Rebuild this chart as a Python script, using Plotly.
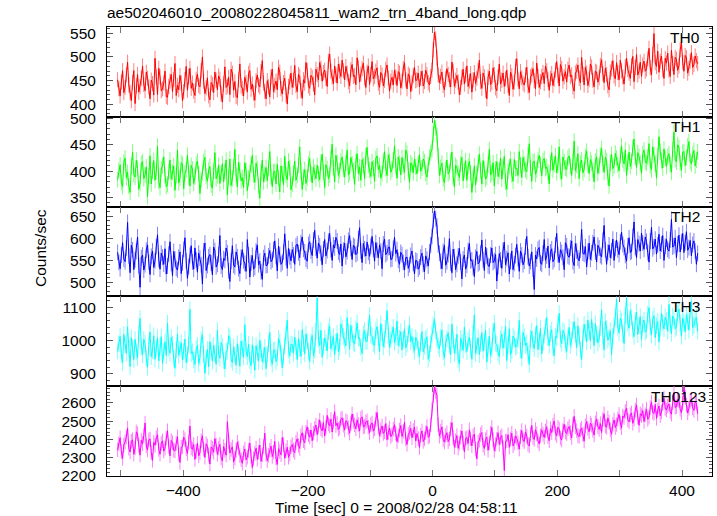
import plotly.graph_objects as go

# ---- data ----
t_start = -505   # first bin time [s]
t_step = 2       # bin width [s]

th0 = [452,433, 418,447, 471,425, 436,462, 489,441, 425,408, 447,471, 402,439, 463,426, 438,455,
       481,442, 429,468, 455,437, 412,451, 444,420, 497,458, 421,476, 458,429, 433,445, 470,417,
       415,438, 449,463, 427,452, 486,419, 440,431, 461,445, 408,427, 452,480, 430,459, 476,434,
       445,428, 419,453, 464,440, 437,471, 500,449, 423,435, 456,418, 410,446, 442,425, 468,451,
       431,460, 453,422, 405,443, 479,436, 439,457, 421,474, 466,430, 448,417, 414,452, 485,439,
       434,418, 457,446, 426,465, 471,432, 443,424, 409,450, 462,441, 437,469, 492,445, 428,412,
       450,437, 416,458, 474,427, 440,449, 431,478, 468,433, 422,446, 455,420, 401,438, 447,466,
       436,451, 482,440, 427,463, 459,429, 413,452, 445,488, 472,439, 434,461, 457,443, 420,474,
       463,452, 488,476, 449,467, 472,455, 438,491, 506,470, 458,444, 481,462, 445,485, 470,459,
       493,471, 452,480, 466,448, 439,473, 484,459, 461,442, 498,478, 447,464, 475,487, 456,436,
       468,481, 442,463, 490,454, 459,470, 477,445, 436,467, 462,439, 451,474, 483,456, 428,449,
       457,441, 472,458, 440,469, 466,435, 449,476, 488,452, 433,464, 460,427, 445,461, 478,450,
       452,466, 437,455, 470,439, 448,472, 463,446, 441,459,
       472,515, 552,538, 498,462,
       446,459, 468,440, 431,454, 475,463, 452,437, 489,470, 438,451, 461,447, 420,436, 457,474, 443,462,
       481,438, 449,465, 426,452, 467,444, 455,471, 493,448, 434,466, 458,430, 412,457, 470,442,
       446,477, 463,435, 429,458, 485,443, 451,466, 438,454, 472,440, 419,468, 460,432, 447,480,
       496,453, 433,469, 456,445, 441,462, 478,439, 425,458, 462,475, 450,433, 487,459, 436,448,
       459,467, 444,481, 471,452, 430,455, 465,440, 453,472, 490,461, 439,484, 476,449, 458,469,
       447,474, 483,458, 462,437, 428,466, 470,483, 455,446, 499,463, 441,478, 466,440, 452,485,
       479,451, 437,470, 468,447, 456,482, 494,465, 446,476, 463,439, 431,468, 475,492, 460,454,
       488,467, 452,493, 471,458, 443,480, 497,474, 466,455, 482,501, 448,478, 505,462, 470,489,
       459,483, 491,470, 475,496, 518,477, 462,506, 549,488, 480,512, 468,491, 502,474, 455,497,
       487,508, 472,459, 514,486, 463,499, 495,472, 481,515, 530,489, 470,503, 498,466, 476,491,
       509,478, 484,502, 492,486]

th1 = [384,402, 412,379, 371,417, 425,388, 398,372, 360,409, 436,394, 389,421, 405,366, 377,414,
       418,386, 393,408, 352,391, 429,376, 401,420, 383,399, 447,381, 369,404, 410,427, 392,371,
       375,399, 421,385, 398,410, 364,392, 440,378, 387,416, 413,367, 396,403, 430,389, 372,411,
       404,377, 389,413, 419,395, 358,384, 397,418, 426,390, 381,402, 409,374, 368,400, 435,386,
       392,411, 377,396, 414,380, 399,421, 355,389, 423,373, 386,408, 441,393, 370,417, 402,382,
       388,369, 416,401, 363,387, 397,412, 430,393, 379,415, 405,372, 349,398, 421,380, 394,407,
       382,405, 437,390, 371,398, 400,376, 413,387, 361,410, 395,374, 428,392, 384,419, 407,365,
       375,396, 419,383, 392,411, 446,400, 366,389, 403,377, 387,414, 424,395, 378,408, 398,386,
       411,395, 384,417, 432,399, 369,412, 405,386, 393,424, 451,407, 380,430, 416,392, 401,419,
       427,404, 389,415, 440,393, 397,426, 414,401, 375,418, 433,396, 408,383, 422,411, 386,429,
       445,412, 402,390, 418,406, 381,424, 429,403, 411,387, 396,419, 437,405, 392,431, 420,398,
       404,421, 448,409, 387,427, 415,393, 426,410, 398,440, 434,402, 379,416, 412,397, 423,408,
       395,414, 431,400, 406,423, 418,396, 389,412, 427,435,
       441,470, 496,482, 468,430,
       392,407, 415,386, 378,403, 421,395, 399,418, 436,389, 370,411, 407,396, 388,414, 426,382, 401,420,
       383,409, 419,397, 360,388, 410,374, 394,415, 432,401, 376,420, 404,385, 389,412, 441,393,
       397,416, 372,404, 418,390, 401,425, 385,408, 428,379, 366,400, 409,423, 393,381, 422,405,
       405,392, 437,411, 388,426, 414,403, 399,431, 452,406, 381,417, 419,394, 402,421, 430,413,
       391,420, 424,405, 408,398, 376,415, 435,402, 413,429, 397,411, 446,399, 385,427, 418,406,
       403,425, 429,410, 392,418, 457,401, 411,433, 386,415, 421,397, 404,428, 438,412, 396,422,
       415,402, 380,419, 427,396, 409,430, 443,414, 398,426, 420,389, 372,416, 432,405, 410,434,
       425,412, 401,430, 448,421, 414,440, 392,417, 436,409, 419,444, 461,426, 407,435, 428,415,
       396,433, 440,418, 415,427, 452,410, 403,446, 431,414, 387,429, 465,437, 420,406, 442,424,
       409,428, 433,413, 398,441, 474,422, 418,450, 445,416, 402,436, 437,411, 426,448, 456,419,
       414,432, 439,410, 421,437]

th2 = [568,545, 531,562, 590,553, 547,578, 636,560, 522,584, 574,529, 551,570, 603,538, 489,556,
       562,528, 540,573, 585,546, 518,559, 571,534, 549,581, 608,552, 530,566, 557,541, 576,519,
       537,564, 592,543, 515,570, 553,532, 528,557, 569,520, 544,575, 601,548, 509,536, 561,583,
       546,530, 578,551, 523,566, 555,540, 496,571, 589,527, 538,558, 563,544, 517,580, 572,535,
       541,563, 606,537, 529,554, 550,578, 567,526, 502,548, 583,539, 535,569, 558,531, 520,557,
       574,549, 543,525, 597,562, 512,544, 561,530, 534,571, 585,540, 548,524, 507,556, 566,538,
       539,560, 572,547, 551,574, 594,559, 526,582, 563,541, 545,569, 610,556, 532,577, 558,549,
       574,562, 541,583, 587,567, 556,590, 603,575, 569,553, 548,586, 592,571, 561,596, 618,578,
       555,589, 583,566, 540,576, 597,560, 572,593, 611,574, 550,585, 578,602, 594,569, 563,587,
       537,573, 589,558, 570,595, 606,577, 552,584, 581,563, 566,599, 624,571, 545,588, 576,560,
       591,568, 559,582, 604,575, 548,590, 573,556, 585,571, 531,587, 598,563, 567,579, 580,552,
       553,577, 602,565, 574,550, 541,568, 563,545, 528,556, 557,532, 540,561, 571,543, 519,550,
       548,530, 535,557, 566,541, 524,560, 552,537, 569,585,
       604,640, 662,645, 628,585,
       566,548, 531,570, 584,539, 547,563, 599,544, 522,575, 558,529, 541,560, 577,546, 508,553, 562,530,
       539,572, 588,549, 551,534, 513,557, 570,542, 545,566, 596,551, 527,580, 560,538, 536,562,
       578,545, 549,563, 503,536, 565,551, 532,573, 591,540, 554,567, 519,548, 571,529, 543,561,
       586,554, 525,571, 562,540, 548,581, 604,558, 537,547, 569,530, 484,562, 553,575, 579,544,
       541,566, 597,550, 560,582, 533,569, 576,547, 552,585, 611,563, 545,574, 568,557, 529,590,
       583,560, 557,578, 594,547, 538,588, 571,555, 549,573, 620,566, 564,581, 535,570, 589,552,
       567,590, 603,569, 546,584, 578,561, 558,595, 629,574, 541,568, 585,556, 572,598, 550,577,
       596,574, 563,592, 614,586, 579,561, 548,583, 601,568, 570,604, 637,579, 556,597, 588,571,
       612,589, 575,603, 593,568, 546,594, 625,576, 581,598, 564,585, 609,571, 587,606, 550,582,
       598,575, 571,596, 643,580, 583,601, 556,587, 607,569, 592,611, 568,590, 615,573, 579,595,
       560,586, 594,571, 541,566]

th3 = [968,990, 1012,957, 935,1018, 987,962, 1041,975, 922,1008, 979,943, 1003,966, 948,1021, 1066,980,
       957,1003, 991,948, 920,985, 1025,952, 970,1014, 944,976, 1008,939, 983,1011, 931,967, 996,955,
       1052,978, 962,1009, 989,945, 917,972, 1019,956, 975,993, 941,969, 1004,934, 958,987, 1093,961,
       966,942, 928,975, 985,931, 949,1002, 1017,958, 902,947, 973,921, 996,968, 938,985, 961,929,
       1030,959, 947,993, 982,940, 915,967, 969,1014, 1008,944, 934,981, 957,926, 990,963, 923,998,
       976,950, 1047,968, 952,989, 940,925, 987,957, 911,984, 965,938, 1001,972, 936,955, 979,916,
       958,991, 1024,946, 929,970, 972,937, 948,1006, 995,961, 918,952, 983,1015, 1061,973, 954,989,
       987,962, 1010,981, 943,1005, 976,953, 1032,990, 960,1019, 998,968, 937,996, 1015,954, 971,1028,
       1127,1004, 985,1030, 950,982, 1007,993, 969,1027, 1043,975, 992,1011, 958,996, 1021,966, 979,1049,
       1036,1012, 1001,984, 1068,1027, 974,1045, 1019,993, 990,1034, 1052,1006, 1008,979, 961,1021, 1030,998,
       997,1038, 1075,1016, 1012,990, 985,1029, 1041,1007, 966,1050, 1024,981, 1003,1036, 1089,1013, 979,1002,
       1017,1040, 994,1011, 1058,985, 1006,1026, 972,1003, 1035,978, 989,1019, 1047,997, 1012,985, 968,1009,
       1000,975, 952,993, 1026,967, 983,1004, 1011,944, 961,990,
       1019,1046, 1064,1028, 1002,985,
       975,1010, 1031,966, 948,992, 1004,1023, 986,957, 1049,1001, 962,984, 1018,943, 930,1006, 993,971, 1040,988,
       967,999, 1009,976, 944,1020, 1077,961, 981,1008, 958,990, 1023,969, 995,1031, 936,982, 1013,955,
       974,1027, 1052,992, 988,963, 952,1004, 1019,977, 1001,1042, 940,986, 1035,958, 969,1013, 1006,980,
       983,1003, 1060,971, 947,1024, 1011,985, 992,959, 928,1007, 1028,990, 976,1017, 1044,973, 998,1036,
       960,994, 1016,1041, 1069,1008, 985,1020, 1032,979, 954,1012, 1007,1049, 1081,1003, 991,1030, 1024,988,
       968,1011, 1039,985, 1002,1033, 1056,1018, 979,1044, 1015,972, 943,1006, 1048,1024, 996,1061, 1027,999,
       1063,1028, 985,1050, 1019,993, 1004,1038, 1091,1015, 972,1057, 1036,1001, 1010,1029, 958,1012, 1045,1070,
       1124,1041, 1023,1066, 1058,1020, 991,1075, 1128,1052, 1037,1089, 1069,1031, 1012,1060, 1085,1018, 1046,1071,
       1003,1048, 1061,1025, 1030,1079, 1098,1040, 1017,1063, 1074,1009, 1044,1057, 996,1036, 1082,1053, 1035,1070,
       1059,1028, 1108,1049, 1021,1073, 1066,1035, 1040,1081, 1094,1054, 1013,1067, 1052,1026, 1077,1058, 1031,1090,
       1118,1039, 1045,1062, 1070,1028]

th0123 = [2342,2376, 2408,2331, 2295,2369, 2385,2412, 2461,2350, 2330,2389, 2397,2318, 2352,2441, 2430,2367, 2313,2395,
          2376,2420, 2489,2364, 2341,2397, 2402,2325, 2284,2383, 2367,2409, 2425,2344, 2318,2378, 2392,2335, 2350,2406,
          2447,2362, 2309,2393, 2381,2340, 2336,2377, 2414,2320, 2273,2356, 2359,2411, 2398,2348, 2322,2385, 2472,2353,
          2345,2371, 2290,2334, 2378,2309, 2327,2392, 2419,2346, 2301,2375, 2362,2315, 2264,2358, 2350,2329, 2403,2368,
          2317,2351, 2372,2298, 2281,2360, 2339,2313, 2496,2387, 2325,2344, 2358,2276, 2297,2339, 2384,2352, 2310,2288,
          2268,2325, 2346,2287, 2301,2338, 2379,2306, 2245,2294, 2322,2351, 2290,2329, 2367,2279, 2314,2360, 2433,2318,
          2283,2312, 2341,2362, 2305,2330, 2388,2297, 2262,2348, 2332,2315, 2409,2371, 2296,2337, 2356,2301, 2318,2359,
          2371,2340, 2327,2384, 2402,2366, 2350,2419, 2436,2392, 2381,2440, 2468,2425, 2412,2451, 2393,2433, 2459,2478,
          2426,2471, 2505,2458, 2447,2492, 2418,2465, 2531,2484, 2474,2510, 2440,2498, 2552,2476, 2489,2455, 2463,2512,
          2518,2477, 2451,2502, 2496,2463, 2434,2487, 2539,2499, 2480,2458, 2507,2482, 2445,2514, 2523,2468, 2471,2495,
          2502,2466, 2436,2481, 2490,2445, 2458,2509, 2547,2470, 2419,2452, 2473,2432, 2441,2486, 2398,2437, 2462,2415,
          2425,2456, 2480,2433, 2387,2419, 2451,2475, 2416,2443, 2494,2402, 2372,2427, 2438,2460, 2409,2448, 2467,2391,
          2431,2404, 2355,2423, 2446,2388, 2402,2437, 2470,2412, 2418,2479,
          2563,2640, 2688,2662, 2641,2480,
          2417,2445, 2468,2399, 2385,2421, 2436,2387, 2402,2456, 2491,2410, 2356,2393, 2420,2351, 2378,2412, 2445,2380, 2331,2404,
          2409,2377, 2452,2403, 2364,2419, 2428,2345, 2293,2384, 2395,2426, 2437,2368, 2350,2398, 2412,2340, 2381,2433,
          2465,2397, 2338,2371, 2401,2436, 2372,2410, 2420,2354, 2228,2389, 2391,2425, 2356,2402, 2433,2364, 2379,2418,
          2405,2381, 2346,2414, 2448,2396, 2387,2441, 2418,2372, 2363,2427, 2476,2409, 2399,2453, 2430,2391, 2375,2420,
          2452,2428, 2411,2446, 2469,2415, 2392,2459, 2437,2478, 2501,2433, 2420,2466, 2456,2407, 2396,2449, 2483,2439,
          2431,2458, 2470,2437, 2409,2482, 2526,2469, 2448,2421, 2415,2451, 2462,2427, 2390,2474, 2497,2460, 2441,2489,
          2478,2449, 2423,2491, 2512,2470, 2455,2486, 2437,2508, 2540,2473, 2466,2517, 2494,2452, 2428,2483, 2506,2465,
          2481,2512, 2537,2490, 2463,2528, 2519,2553, 2572,2507, 2496,2534, 2545,2488, 2510,2561, 2589,2522, 2477,2540,
          2530,2557, 2498,2535, 2566,2510, 2521,2574, 2604,2548, 2542,2591, 2515,2560, 2583,2529, 2550,2596, 2627,2571,
          2561,2584, 2595,2552, 2538,2603, 2657,2576, 2579,2620, 2612,2565, 2546,2598, 2690,2631, 2588,2545, 2570,2609,
          2621,2573, 2559,2606, 2598,2541]

band_names = ["TH0", "TH1", "TH2", "TH3", "TH0123"]
band_values = [th0, th1, th2, th3, th0123]
band_errors = [16, 15, 18, 25, 40]
y_ranges = [[374, 563], [333, 503], [468, 672], [863, 1132], [2198, 2692]]
y_major = [50, 50, 50, 100, 100]
y_minor = [10, 10, 10, 20, 20]
x_range = [-522, 448]

title_text = "ae502046010_20080228045811_wam2_trn_4band_long.qdp"
x_title = "Time [sec] 0 = 2008/02/28 04:58:11"
y_title = "Counts/sec"

# ---- styles ----
line_colors = ["#ff0000", "#00ff00", "#0000ff", "#00ffff", "#ff00ff"]
err_colors = ["#ff8080", "#80ff80", "#8080ff", "#80ffff", "#ff80ff"]
FONT = "Liberation Sans, Arial, Helvetica, sans-serif"
FS = 15.5

W, H = 717, 516
ML, MR, MT, MB = 107, 5, 27, 40
PW = W - ML - MR
PH = H - MT - MB
n = len(band_names)

fig = go.Figure()
layout = dict(
    width=W, height=H,
    margin=dict(l=ML, r=MR, t=MT, b=MB, autoexpand=False),
    paper_bgcolor="white", plot_bgcolor="white",
    showlegend=False,
    font=dict(family=FONT, size=FS, color="black"),
    title=dict(text=title_text, x=ML / W, xanchor="left", xref="container",
               y=1 - 13 / H, yanchor="middle", yref="container",
               font=dict(family=FONT, size=FS, color="black")),
)

annotations = []
for i in range(n):
    k = i + 1
    xa = "x" if k == 1 else f"x{k}"
    ya = "y" if k == 1 else f"y{k}"
    # error bars (drawn underneath)
    fig.add_trace(go.Scatter(
        x0=t_start, dx=t_step, y=band_values[i], xaxis=xa, yaxis=ya,
        mode="markers", marker=dict(size=1, color=err_colors[i]),
        error_y=dict(type="constant", value=band_errors[i], color=err_colors[i],
                     thickness=1, width=0),
        hoverinfo="skip"))
    fig.add_trace(go.Scatter(
        x0=t_start, dx=t_step, y=band_values[i], xaxis=xa, yaxis=ya,
        mode="lines", line=dict(color=line_colors[i], width=1)))

    top = 1 - i / n
    bot = 1 - (i + 1) / n
    xkey = "xaxis" if k == 1 else f"xaxis{k}"
    ykey = "yaxis" if k == 1 else f"yaxis{k}"
    layout[xkey] = dict(
        range=x_range, domain=[0, 1], anchor=ya,
        matches=None if k == 1 else "x",
        showline=True, linecolor="black", linewidth=1, mirror="ticks",
        ticks="inside", ticklen=6, tickcolor="#777777", tickwidth=1,
        tick0=0, dtick=200,
        minor=dict(dtick=100, tick0=0, ticks="inside", ticklen=6,
                   tickcolor="#777777", tickwidth=1),
        showticklabels=(k == n), showgrid=False, zeroline=False,
        tickfont=dict(family=FONT, size=FS, color="black"),
        ticklabelstandoff=0, automargin=False,
    )
    layout[ykey] = dict(
        range=y_ranges[i], domain=[bot, top], anchor=xa,
        showline=True, linecolor="black", linewidth=1, mirror="ticks",
        ticks="inside", ticklen=6, tickcolor="#555555", tickwidth=1,
        tick0=0, dtick=y_major[i],
        minor=dict(dtick=y_minor[i], tick0=0, ticks="inside", ticklen=3,
                   tickcolor="#555555", tickwidth=1),
        showgrid=False, zeroline=False,
        tickfont=dict(family=FONT, size=FS, color="black"),
        ticklabelstandoff=7, automargin=False,
    )
    label_right = 702 if k < n else 708
    panel_top_px = MT + i * PH / n
    annotations.append(dict(
        text=band_names[i], xref="paper", yref="paper",
        x=(label_right - ML) / PW, xanchor="right",
        y=1 - (panel_top_px + 10 - MT) / PH, yanchor="middle",
        showarrow=False, font=dict(family=FONT, size=FS, color="black")))

annotations.append(dict(
    text=y_title, xref="paper", yref="paper",
    x=(40 - ML) / PW, xanchor="center", y=1 - (248 - MT) / PH, yanchor="middle",
    textangle=-90, showarrow=False,
    font=dict(family=FONT, size=FS, color="black")))
annotations.append(dict(
    text=x_title, xref="paper", yref="paper",
    x=(396.5 - ML) / PW, xanchor="center", y=1 - (507 - MT) / PH, yanchor="middle",
    showarrow=False, font=dict(family=FONT, size=FS, color="black")))

layout["annotations"] = annotations
fig.update_layout(**layout)
fig.write_html("out.html", config={"displayModeBar": False},
               post_script="document.body.style.margin='0';document.body.style.padding='0';")
